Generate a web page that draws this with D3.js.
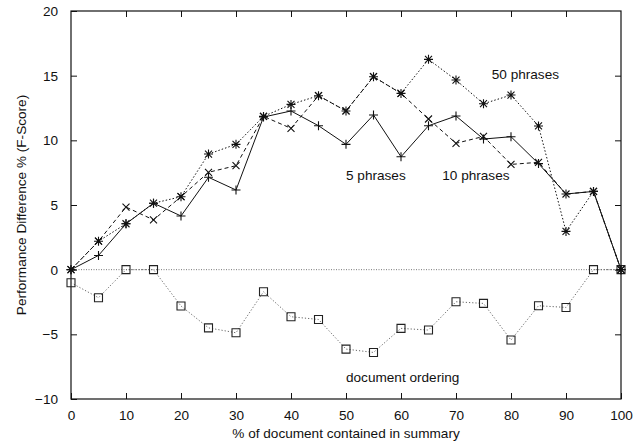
<!DOCTYPE html>
<html>
<head>
<meta charset="utf-8">
<script src="https://cdn.jsdelivr.net/npm/d3@7"></script>
<style>
  body { margin: 0; background: #fff; }
  svg text { font-family: "Liberation Sans", Arial, Helvetica, sans-serif; font-size: 13.6px; fill: #111; }
</style>
</head>
<body>
<div id="chart"></div>
<script>
const xValues = [0, 5, 10, 15, 20, 25, 30, 35, 40, 45, 50, 55, 60, 65, 70, 75, 80, 85, 90, 95, 100]
const phrases5 = [0, 1.1, 3.55, 5.14, 4.15, 7.14, 6.16, 11.8, 12.27, 11.13, 9.69, 11.96, 8.73, 11.13, 11.88, 10.1, 10.28, 8.2, 5.85, 6.05, 0]
const phrases10 = [0, 2.2, 4.84, 3.85, 5.64, 7.53, 8.04, 11.85, 10.93, 13.45, 12.27, 14.92, 13.63, 11.65, 9.77, 10.3, 8.14, 8.3, 5.85, 6.05, 0]
const phrases50 = [0, 2.2, 3.55, 5.14, 5.64, 8.94, 9.69, 11.85, 12.78, 13.45, 12.27, 14.92, 13.63, 16.26, 14.66, 12.83, 13.5, 11.11, 2.96, 6.05, 0]
const docOrdering = [-1.01, -2.17, 0, 0, -2.81, -4.5, -4.88, -1.71, -3.64, -3.85, -6.14, -6.4, -4.54, -4.67, -2.48, -2.61, -5.44, -2.79, -2.92, 0, 0]
const xTicks = [0, 10, 20, 30, 40, 50, 60, 70, 80, 90, 100]
const yTicks = [-10, -5, 0, 5, 10, 15, 20]

const W = 643, H = 444
const margin = { top: 11, right: 22, bottom: 45, left: 71 }
const width = W - margin.left - margin.right
const height = H - margin.top - margin.bottom

const svg = d3.select("#chart").append("svg")
  .attr("width", W)
  .attr("height", H)

const g = svg.append("g").attr("transform", `translate(${margin.left},${margin.top})`)

const x = d3.scaleLinear().domain([0, 100]).range([0, width])
const y = d3.scaleLinear().domain([-10, 20]).range([height, 0])

// zero axis
g.append("line")
  .attr("x1", 0).attr("x2", width)
  .attr("y1", y(0)).attr("y2", y(0))
  .attr("stroke", "#777")
  .attr("stroke-width", 1)
  .attr("stroke-dasharray", "1,1.5")

// axes with inward ticks on all sides
const axisStyle = (sel) => {
  sel.select(".domain").remove()
  sel.selectAll(".tick line").attr("stroke", "#111")
}
g.append("g")
  .attr("transform", `translate(0,${height})`)
  .call(d3.axisBottom(x).tickValues(xTicks).tickSize(-6).tickPadding(11))
  .call(axisStyle)
  .call((s) => s.selectAll("text").attr("font-size", 13.6).attr("fill", "#111"))
g.append("g")
  .call(d3.axisTop(x).tickValues(xTicks.slice(1, -1)).tickSize(-6).tickFormat(""))
  .call(axisStyle)
g.append("g")
  .call(d3.axisLeft(y).tickValues(yTicks).tickSize(-6).tickPadding(13))
  .call(axisStyle)
  .call((s) => s.selectAll("text").attr("font-size", 13.6).attr("fill", "#111"))
g.append("g")
  .attr("transform", `translate(${width},0)`)
  .call(d3.axisRight(y).tickValues(yTicks.slice(1, -1)).tickSize(-6).tickFormat(""))
  .call(axisStyle)

g.append("rect")
  .attr("x", 0).attr("y", 0)
  .attr("width", width).attr("height", height)
  .attr("fill", "none")
  .attr("stroke", "#111")
  .attr("stroke-width", 1.2)

const line = d3.line().x((d, i) => x(xValues[i])).y((d) => y(d))

const series = [
  { values: docOrdering, dash: "1.2,2", color: "#666", marker: "square" },
  { values: phrases50, dash: "1.5,2", color: "#111", marker: "star" },
  { values: phrases10, dash: "4,3", color: "#111", marker: "cross" },
  { values: phrases5, dash: null, color: "#111", marker: "plus" }
]

const markers = {
  plus: "M-4.5,0H4.5M0,-4.5V4.5",
  cross: "M-3.5,-3.5L3.5,3.5M-3.5,3.5L3.5,-3.5",
  star: "M-4.5,0H4.5M0,-4.5V4.5M-3.5,-3.5L3.5,3.5M-3.5,3.5L3.5,-3.5",
  square: "M-4,-4H4V4H-4Z"
}

series.forEach((s) => {
  g.append("path")
    .datum(s.values)
    .attr("d", line)
    .attr("fill", "none")
    .attr("stroke", s.color)
    .attr("stroke-width", 1)
    .attr("stroke-dasharray", s.dash)

  g.selectAll(null)
    .data(s.values)
    .enter()
    .append("path")
    .attr("transform", (d, i) => `translate(${x(xValues[i])},${y(d)})`)
    .attr("d", markers[s.marker])
    .attr("fill", "none")
    .attr("stroke", s.marker === "square" ? "#222" : "#111")
    .attr("stroke-width", 1.1)
})

// series labels
const labels = [
  { text: "50 phrases", x: 76.5, y: 15.1 },
  { text: "5 phrases", x: 50, y: 7.3 },
  { text: "10 phrases", x: 67.5, y: 7.3 },
  { text: "document ordering", x: 50, y: -8.3 }
]
g.selectAll(".series-label")
  .data(labels)
  .enter()
  .append("text")
  .attr("class", "series-label")
  .attr("x", (d) => x(d.x))
  .attr("y", (d) => y(d.y))
  .attr("dy", "0.35em")
  .text((d) => d.text)

svg.append("text")
  .attr("x", margin.left + width / 2)
  .attr("y", 438)
  .attr("text-anchor", "middle")
  .text("% of document contained in summary")

svg.append("text")
  .attr("transform", `translate(26,${margin.top + height / 2}) rotate(-90)`)
  .attr("text-anchor", "middle")
  .text("Performance Difference % (F-Score)")
</script>
</body>
</html>
